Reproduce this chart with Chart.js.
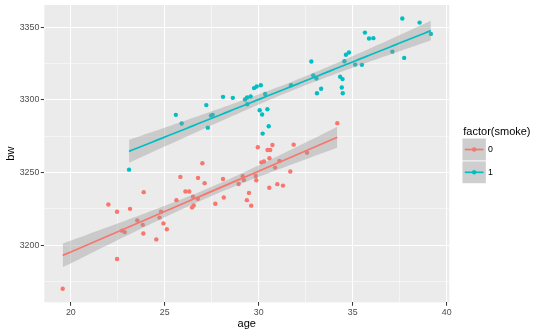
<!DOCTYPE html>
<html>
<head>
<meta charset="utf-8">
<script src="https://cdn.jsdelivr.net/npm/chart.js@4/dist/chart.umd.min.js"></script>
<style>
  html, body { margin: 0; padding: 0; background: #ffffff; }
  #wrap { width: 548px; height: 334px; position: relative; }
</style>
</head>
<body>
<div id="wrap"><canvas id="c" width="548" height="334"></canvas></div>
<script>
// Birth weight against mother's age, split by smoking status
const smokeLevels = ['0', '1'];
const smokeColors = ['#F8766D', '#00BFC4'];

const ageSmoke0 = [19.57, 22.0, 22.46, 22.46, 22.73, 22.87, 23.15, 23.54, 23.83, 23.86, 23.88, 24.55, 24.72, 24.80, 24.93, 25.11, 25.62, 25.83, 26.10, 26.30, 26.45, 26.50, 26.54, 26.76, 26.77, 27.00, 27.12, 27.69, 28.10, 28.14, 28.93, 29.15, 29.21, 29.37, 29.48, 29.60, 29.84, 29.87, 29.95, 30.14, 30.28, 30.47, 30.57, 30.56, 30.61, 30.73, 30.87, 30.99, 31.10, 31.29, 31.68, 31.86, 32.57, 34.18];
const bwSmoke0  = [3170, 3228, 3223, 3190.5, 3210, 3209, 3225, 3217, 3214, 3208, 3236.5, 3204, 3219, 3223, 3215, 3211, 3231, 3247, 3237, 3237, 3226, 3233.4, 3227.3, 3232, 3246.3, 3256.4, 3242.7, 3228.5, 3245.6, 3232.8, 3242.1, 3247.5, 3244.8, 3231, 3236, 3227.2, 3247.6, 3244.7, 3267.4, 3257, 3257.6, 3265.5, 3259.8, 3239.5, 3265.5, 3269, 3253.4, 3242, 3258, 3241, 3250.7, 3269.2, 3263.7, 3284];

const ageSmoke1 = [23.10, 25.59, 25.90, 27.21, 27.29, 27.46, 27.55, 28.10, 28.62, 29.27, 29.38, 29.39, 29.57, 29.75, 29.89, 30.05, 30.11, 30.18, 30.21, 30.34, 30.46, 30.53, 31.72, 32.80, 32.90, 33.07, 33.10, 33.32, 34.33, 34.42, 34.46, 34.47, 34.56, 34.64, 34.80, 35.13, 35.49, 35.65, 35.87, 36.10, 37.11, 37.64, 37.74, 38.56, 39.16];
const bwSmoke1  = [3252, 3289.7, 3283.7, 3296.4, 3280.9, 3289.2, 3289.7, 3302.1, 3301.4, 3300.3, 3301.6, 3297.0, 3302.3, 3308.1, 3309.2, 3292.9, 3310.1, 3289.9, 3276.8, 3304.1, 3293.6, 3281.9, 3310.1, 3326.4, 3316.8, 3314.7, 3304.6, 3307.7, 3315.9, 3308.5, 3314.3, 3304.6, 3326.6, 3331.1, 3332.6, 3324.3, 3324.1, 3346.3, 3342.2, 3342.5, 3333.2, 3356, 3328.9, 3353.2, 3345.4];

const xTickLabels = [20, 25, 30, 35, 40];
const yTickLabels = [3200, 3250, 3300, 3350];

const FONT = '"Liberation Sans", Arial, Helvetica, sans-serif';
Chart.defaults.font.family = FONT;

// 0.975 quantile of Student's t (Cornish-Fisher expansion)
function tQuantile975(df) {
  const z = 1.959964;
  return z + (z ** 3 + z) / (4 * df) + (5 * z ** 5 + 16 * z ** 3 + 3 * z) / (96 * df * df);
}

// Least-squares line with a 95% confidence band, evaluated on 80 points
function linearFit(xs, ys, steps = 80) {
  const n = xs.length;
  const mx = xs.reduce((a, b) => a + b, 0) / n;
  const my = ys.reduce((a, b) => a + b, 0) / n;
  let sxx = 0, sxy = 0;
  for (let i = 0; i < n; i++) { sxx += (xs[i] - mx) ** 2; sxy += (xs[i] - mx) * (ys[i] - my); }
  const slope = sxy / sxx, icept = my - slope * mx;
  let ss = 0;
  for (let i = 0; i < n; i++) ss += (ys[i] - (icept + slope * xs[i])) ** 2;
  const s = Math.sqrt(ss / (n - 2));
  const t = tQuantile975(n - 2);
  const lo = Math.min(...xs), hi = Math.max(...xs);
  const fit = [], upper = [], lower = [];
  for (let k = 0; k < steps; k++) {
    const x = lo + (hi - lo) * k / (steps - 1);
    const yhat = icept + slope * x;
    const se = s * Math.sqrt(1 / n + (x - mx) ** 2 / sxx);
    fit.push({ x, y: yhat });
    upper.push({ x, y: yhat + t * se });
    lower.push({ x, y: yhat - t * se });
  }
  return { fit, upper, lower };
}

const groups = [
  { ages: ageSmoke0, bws: bwSmoke0 },
  { ages: ageSmoke1, bws: bwSmoke1 }
];

const BAND = 'rgba(153,153,153,0.4)';
const datasets = [];
groups.forEach((g, i) => {
  datasets.push({
    type: 'scatter',
    label: smokeLevels[i],
    data: g.ages.map((a, j) => ({ x: a, y: g.bws[j] })),
    backgroundColor: smokeColors[i],
    borderWidth: 0,
    pointRadius: 2.2,
    pointHoverRadius: 2.2,
    order: 10
  });
});
groups.forEach((g, i) => {
  const f = linearFit(g.ages, g.bws);
  const base = 4 - i * 2;
  datasets.push({
    type: 'line', data: f.upper, fill: '+1', backgroundColor: BAND,
    borderColor: 'rgba(0,0,0,0)', borderWidth: 0, pointRadius: 0, tension: 0, order: base
  });
  datasets.push({
    type: 'line', data: f.lower, fill: false,
    borderColor: 'rgba(0,0,0,0)', borderWidth: 0, pointRadius: 0, tension: 0, order: base
  });
  datasets.push({
    type: 'line', data: f.fit, fill: false, borderColor: smokeColors[i],
    borderWidth: 1.7, pointRadius: 0, tension: 0, order: base - 1
  });
});

const isMajorX = v => xTickLabels.some(t => Math.abs(t - v) < 1e-6);
const isMajorY = v => yTickLabels.some(t => Math.abs(t - v) < 1e-6);

// grey panel behind the grid
const panelPlugin = {
  id: 'panel',
  beforeDraw(chart) {
    const { ctx, chartArea: a } = chart;
    ctx.save();
    ctx.fillStyle = '#ffffff';
    ctx.fillRect(0, 0, chart.width, chart.height);
    ctx.fillStyle = '#EBEBEB';
    ctx.fillRect(a.left, a.top, a.right - a.left, a.bottom - a.top);
    ctx.restore();
  }
};

// legend for factor(smoke): grey keys with band, line and point
const legendPlugin = {
  id: 'smokeLegend',
  afterDraw(chart) {
    const ctx = chart.ctx;
    ctx.save();
    ctx.fillStyle = '#000000';
    ctx.font = '11px ' + FONT;
    ctx.textBaseline = 'alphabetic';
    ctx.textAlign = 'left';
    ctx.fillText('factor(smoke)', 463.3, 134.6);
    const keyX = 462.5, keyW = 23.3, keyH = 21.8;
    const keyY = [138.6, 161.4];
    smokeLevels.forEach((lvl, i) => {
      const y0 = keyY[i], cy = y0 + keyH / 2, cx = keyX + keyW / 2;
      ctx.fillStyle = '#F2F2F2';
      ctx.fillRect(keyX, y0, keyW, keyH);
      ctx.fillStyle = BAND;
      ctx.fillRect(keyX, y0, keyW, keyH);
      ctx.strokeStyle = smokeColors[i];
      ctx.lineWidth = 1.7;
      ctx.beginPath();
      ctx.moveTo(keyX + 2.3, cy);
      ctx.lineTo(keyX + keyW - 2.3, cy);
      ctx.stroke();
      ctx.fillStyle = smokeColors[i];
      ctx.beginPath();
      ctx.arc(cx, cy, 2.2, 0, Math.PI * 2);
      ctx.fill();
      ctx.fillStyle = '#000000';
      ctx.font = '8.8px ' + FONT;
      ctx.textBaseline = 'middle';
      ctx.fillText(lvl, 488, cy + 0.5);
    });
    ctx.restore();
  }
};

new Chart(document.getElementById('c'), {
  type: 'scatter',
  data: { datasets },
  options: {
    responsive: false,
    devicePixelRatio: 1,
    animation: false,
    events: [],
    layout: { padding: { left: 0, top: 5, right: 98.7, bottom: 0 } },
    plugins: { legend: { display: false }, tooltip: { enabled: false } },
    scales: {
      x: {
        type: 'linear',
        min: 18.59, max: 40.14,
        border: { display: false },
        grid: {
          color: '#ffffff',
          lineWidth: c => (c.tick && isMajorX(c.tick.value)) ? 1.07 : 0.53,
          tickColor: c => (c.tick && isMajorX(c.tick.value)) ? '#333333' : 'rgba(0,0,0,0)',
          tickWidth: 1,
          tickLength: 3.5
        },
        ticks: {
          stepSize: 2.5,
          includeBounds: false,
          autoSkip: false,
          maxRotation: 0,
          padding: 1.5,
          color: '#4D4D4D',
          font: { size: 8.8, family: FONT },
          callback: v => isMajorX(v) ? String(v) : ''
        },
        title: {
          display: true, text: 'age', color: '#000000',
          font: { size: 11, family: FONT }, padding: { top: 0, bottom: 3.3 }
        },
        afterFit(scale) {
          scale.height = 31.7;
          scale.paddingLeft = 0; scale.paddingRight = 0;
        }
      },
      y: {
        type: 'linear',
        min: 3160.7, max: 3365.3,
        border: { display: false },
        grid: {
          color: '#ffffff',
          lineWidth: c => (c.tick && isMajorY(c.tick.value)) ? 1.07 : 0.53,
          tickColor: c => (c.tick && isMajorY(c.tick.value)) ? '#333333' : 'rgba(0,0,0,0)',
          tickWidth: 1,
          tickLength: 3.5
        },
        ticks: {
          stepSize: 25,
          includeBounds: false,
          autoSkip: false,
          padding: 1.5,
          color: '#4D4D4D',
          font: { size: 8.8, family: FONT },
          callback: v => isMajorY(v) ? String(v) : ''
        },
        title: {
          display: true, text: 'bw', color: '#000000',
          font: { size: 11, family: FONT }, padding: { top: 4.2, bottom: 0 }
        },
        afterFit(scale) {
          scale.width = 44.3;
          scale.paddingTop = 0; scale.paddingBottom = 0;
        }
      }
    }
  },
  plugins: [panelPlugin, legendPlugin]
});
</script>
</body>
</html>
